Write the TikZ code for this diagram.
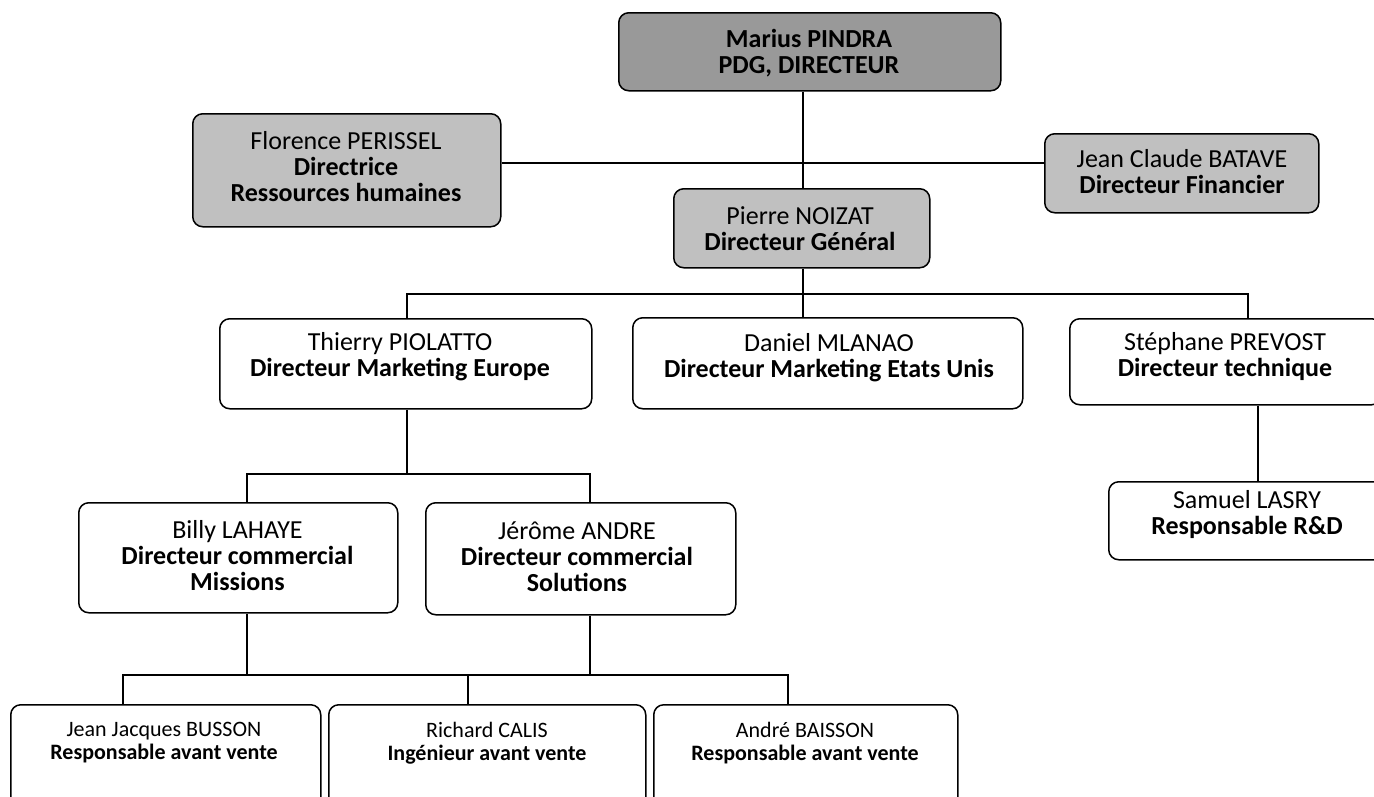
\documentclass[tikz,border=0pt]{standalone}
\usepackage{fontspec}
\setmainfont{Carlito}
\definecolor{darkbox}{HTML}{999999}
\definecolor{lightbox}{HTML}{C0C0C0}
\tikzset{
  box/.style={draw=black, line width=1.5pt, rounded corners=10pt, anchor=north west, inner sep=0pt},
  txt/.style={align=center, inner sep=0pt, font=\fontsize{26}{26}\selectfont},
  smalltxt/.style={align=center, inner sep=0pt, font=\fontsize{22}{23}\selectfont},
  link/.style={draw=black, line width=1.5pt}
}
\begin{document}
\begin{tikzpicture}[x=1pt,y=-1pt]
\clip (0,0) rectangle (1374,796);
\fill[white] (0,0) rectangle (1374,796);

% boxes
\node[box, fill=darkbox, minimum width=382pt, minimum height=78pt] (marius) at (618,12) {};
\node[box, fill=lightbox, minimum width=308pt, minimum height=113pt] (florence) at (192,113) {};
\node[box, fill=lightbox, minimum width=274pt, minimum height=79pt] (jc) at (1044,133) {};
\node[box, fill=lightbox, minimum width=256pt, minimum height=79pt] (pierre) at (673,188) {};
\node[box, fill=white, minimum width=372pt, minimum height=90pt] (thierry) at (219,318) {};
\node[box, fill=white, minimum width=390pt, minimum height=91pt] (daniel) at (632,317) {};
\node[box, fill=white, minimum width=312pt, minimum height=86pt] (stephane) at (1069,318) {};
\node[box, fill=white, minimum width=278pt, minimum height=78pt] (samuel) at (1108,481) {};
\node[box, fill=white, minimum width=319pt, minimum height=110pt] (billy) at (78,502) {};
\node[box, fill=white, minimum width=310pt, minimum height=112pt] (jerome) at (425,502) {};
\node[box, fill=white, minimum width=310pt, minimum height=130pt] (jj) at (10,704) {};
\node[box, fill=white, minimum width=317pt, minimum height=130pt] (richard) at (328,704) {};
\node[box, fill=white, minimum width=304pt, minimum height=130pt] (andre) at (653,704) {};

% texts
\node[txt] (mariust) at (809,53) {\textbf{Marius PINDRA}\\\textbf{PDG, DIRECTEUR}};
\node[txt] (florencet) at (346,167) {Florence PERISSEL\\\textbf{Directrice}\\\textbf{Ressources humaines}};
\node[txt] (jct) at (1182,172) {Jean Claude BATAVE\\\textbf{Directeur Financier}};
\node[txt] (pierret) at (800,229) {Pierre NOIZAT\\\textbf{Directeur Général}};
\node[txt] (thierryt) at (400,357) {Thierry PIOLATTO\\\textbf{Directeur Marketing Europe}};
\node[txt] (danielt) at (829,358) {Daniel MLANAO\\\textbf{Directeur Marketing Etats Unis}};
\node[txt] (stephanet) at (1225,357) {Stéphane PREVOST\\\textbf{Directeur technique}};
\node[txt] (samuelt) at (1247,515) {Samuel LASRY\\\textbf{Responsable R\&D}};
\node[txt] (billyt) at (237.5,556) {Billy LAHAYE\\\textbf{Directeur commercial}\\\textbf{Missions}};
\node[txt] (jeromet) at (577,557) {Jérôme ANDRE\\\textbf{Directeur commercial}\\\textbf{Solutions}};
\node[smalltxt] (jjt) at (164,743) {Jean Jacques BUSSON\\\textbf{Responsable avant vente}};
\node[smalltxt] (richardt) at (487,743) {Richard CALIS\\\textbf{Ingénieur avant vente}};
\node[smalltxt] (andret) at (805,743) {André BAISSON\\\textbf{Responsable avant vente}};

% helper coordinates
\coordinate (hy) at (0,163);
\coordinate (c0) at (803,0);
\coordinate (t0) at (407,0);
\coordinate (s1) at (1248,294);
\coordinate (s2) at (1258,0);
\coordinate (c1) at (247,474);
\coordinate (c2) at (590,474);
\coordinate (d1) at (123,675);
\coordinate (d2) at (468,675);
\coordinate (d3) at (788,675);

% connectors
\draw[link] (c0 |- marius.south) -- (c0 |- pierre.north);
\draw[link] (florence.east |- hy) -- (jc.west |- hy);
\draw[link] (c0 |- pierre.south) -- (c0 |- daniel.north);
\draw[link] (t0 |- thierry.north) |- (s1) -- (s1 |- stephane.north);
\draw[link] (s2 |- stephane.south) -- (s2 |- samuel.north);
\draw[link] (t0 |- thierry.south) -- (t0 |- c1);
\draw[link] (c1 |- billy.north) |- (c2) -- (c2 |- jerome.north);
\draw[link] (c1 |- billy.south) -- (c1 |- d1);
\draw[link] (c2 |- jerome.south) -- (c2 |- d1);
\draw[link] (d1 |- jj.north) |- (d3) -- (d3 |- andre.north);
\draw[link] (d2) -- (d2 |- richard.north);
\end{tikzpicture}
\end{document}
